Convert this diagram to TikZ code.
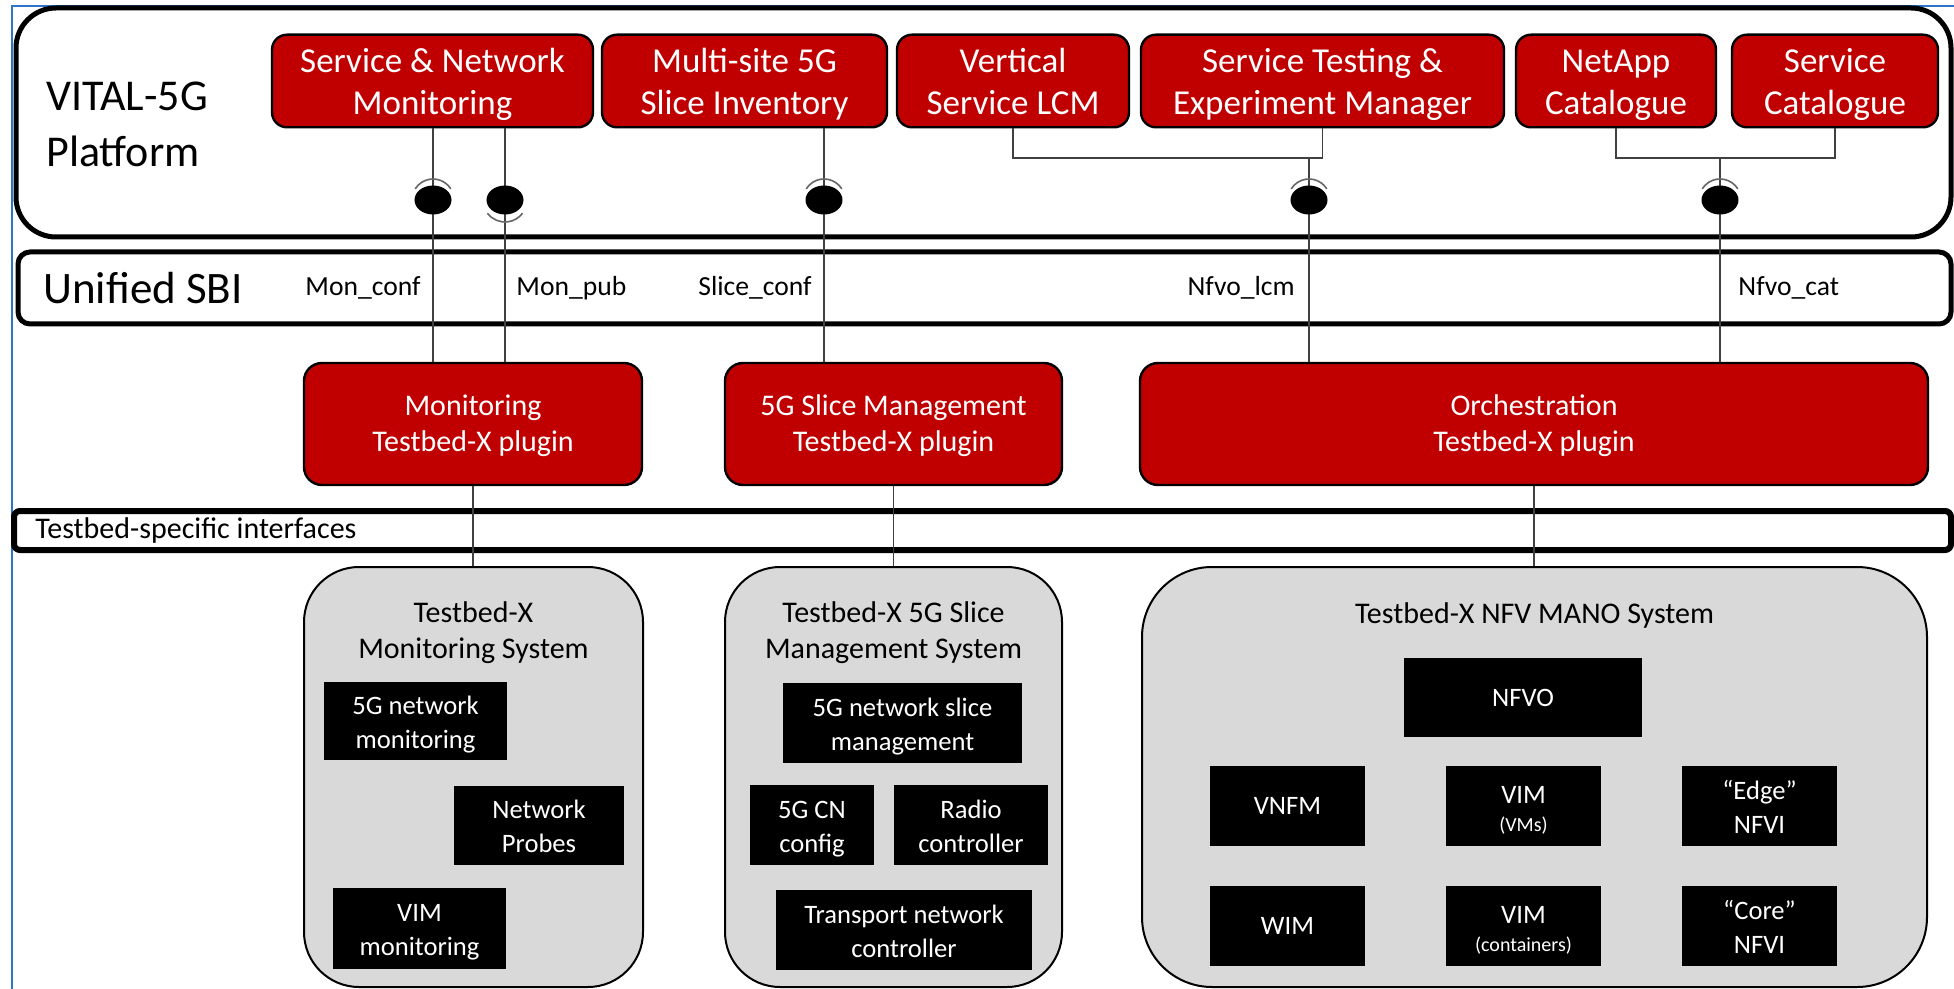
\documentclass[tikz,border=0pt]{standalone}
\usepackage{fontspec}
\setmainfont{Carlito}
\usetikzlibrary{calc}
\definecolor{vred}{HTML}{C00000}
\definecolor{vgray}{HTML}{D9D9D9}
\definecolor{frameblue}{HTML}{2E75C8}

\begin{document}
\begin{tikzpicture}[x=0.5pt,y=-0.5pt,
  panel/.style={draw=black, line width=2.5pt, fill=white, inner sep=0pt},
  topbox/.style={draw=black, line width=1.2pt, fill=vred, text=white, align=center,
    rounded corners=7.5pt, inner sep=0pt, minimum height=46pt,
    font=\fontsize{17.5}{21}\selectfont,
    execute at begin node=\rule{0pt}{40pt}, execute at end node=\strut},
  plugbox/.style={draw=black, line width=1.2pt, fill=vred, text=white, align=center,
    rounded corners=9pt, inner sep=0pt, minimum height=61pt,
    font=\fontsize{15}{18}\selectfont,
    execute at begin node=\rule{0pt}{33pt}, execute at end node=\strut},
  sysbox/.style={draw=black, line width=1pt, fill=vgray, inner sep=0pt,
    rounded corners=27.5pt, minimum height=210pt},
  systitle/.style={align=center, inner sep=0pt, font=\fontsize{15}{18}\selectfont},
  blkone/.style={fill=black, text=white, align=center, inner sep=0pt,
    minimum width=77.5pt, minimum height=40pt, font=\fontsize{13.3}{17}\selectfont},
  blkbox/.style={blkone,
    execute at begin node=\rule{0pt}{#1}, execute at end node=\strut},
  blkbox/.default=32.5pt,
  ifname/.style={inner sep=0pt, font=\fontsize{13.8}{16}\selectfont},
  conn/.style={draw=black!75, line width=0.8pt},
  socket/.style={draw=black!60, line width=0.8pt}
]
\useasboundingbox (0,0) rectangle (1954,989);
\draw[frameblue, line width=1.2pt] (12,989) -- (12,6) -- (1954,6);

% layers
\node[panel, rounded corners=20pt, minimum width=967.5pt, minimum height=114.5pt] (platform) at (983.5,122.5) {};
\node[panel, rounded corners=6pt, minimum width=966.5pt, minimum height=36pt] (sbi) at (984.5,288) {};
\node[panel, line width=3pt, rounded corners=3pt, minimum width=968.5pt, minimum height=19.5pt] (tsi) at (982.5,530.5) {};
\node[anchor=west, align=left, inner sep=0pt, font=\fontsize{22}{28}\selectfont] (pltitle) at (46,124) {VITAL-5G\\Platform};
\node[anchor=west, inner sep=0pt, font=\fontsize{22.5}{27}\selectfont] (sbititle) at (43,288) {Unified SBI};
\node[anchor=west, inner sep=0pt, font=\fontsize{15}{18}\selectfont] (tsititle) at (35,530.5) {Testbed-specific interfaces};

% platform components
\node[topbox, minimum width=160.5pt] (snm) at (432.5,81) {Service \& Network\\Monitoring};
\node[topbox, minimum width=142.5pt] (msi) at (744.5,81) {Multi-site 5G\\Slice Inventory};
\node[topbox, minimum width=116pt] (vsl) at (1013,81) {Vertical\\Service LCM};
\node[topbox, minimum width=181.5pt] (ste) at (1322.5,81) {Service Testing \&\\Experiment Manager};
\node[topbox, minimum width=100pt] (nac) at (1616,81) {NetApp\\Catalogue};
\node[topbox, minimum width=103pt] (sca) at (1835,81) {Service\\Catalogue};

% plugins
\node[plugbox, minimum width=169pt] (monp) at (473,424) {Monitoring\\Testbed-X plugin};
\node[plugbox, minimum width=168.5pt] (slicep) at (893.5,424) {5G Slice Management\\Testbed-X plugin};
\node[plugbox, minimum width=394pt] (orchp) at (1534,424) {Orchestration\\Testbed-X plugin};

% testbed systems
\node[sysbox, minimum width=169.5pt] (monsys) at (473.5,777) {};
\node[sysbox, minimum width=168.5pt] (slicesys) at (893.5,777) {};
\node[sysbox, rounded corners=35pt, minimum width=392.5pt] (manosys) at (1534.5,777) {};
\node[systitle] (monsyst) at (473.5,633) {Testbed-X\\Monitoring System};
\node[systitle] (slicesyst) at (893.5,633) {Testbed-X 5G Slice\\Management System};
\node[systitle] (manosyst) at (1534.5,616) {Testbed-X NFV MANO System};

\node[blkbox, minimum width=91.5pt, minimum height=39pt] (nwmon) at (415.5,721) {5G network\\monitoring};
\node[blkbox, minimum width=85pt, minimum height=39.5pt] (probes) at (539,825.5) {Network\\Probes};
\node[blkbox, minimum width=86.5pt, minimum height=40.5pt] (vimmon) at (419.5,928.5) {VIM\\monitoring};
\node[blkbox, minimum width=119.5pt] (slmgmt) at (902.5,723) {5G network slice\\management};
\node[blkbox, minimum width=62pt] (cncfg) at (812,825) {5G CN\\config};
\node[blkbox, minimum width=77pt] (radio) at (971,825) {Radio\\controller};
\node[blkbox, minimum width=128pt] (transp) at (904,930) {Transport network\\controller};
\node[blkone, minimum width=119pt, minimum height=39.5pt] (nfvo) at (1523,697.5) {NFVO};
\node[blkone] (vnfm) at (1287.5,806) {VNFM};
\node[blkbox=30.5pt] (vimvm) at (1523.5,806) {VIM\\[-3pt]{\fontsize{10}{12}\selectfont (VMs)}};
\node[blkbox] (edge) at (1759.5,806) {“Edge”\\NFVI};
\node[blkone] (wim) at (1287.5,926) {WIM};
\node[blkbox=30.5pt] (vimct) at (1523.5,926) {VIM\\[-3pt]{\fontsize{10}{12}\selectfont (containers)}};
\node[blkbox] (core) at (1759.5,926) {“Core”\\NFVI};

% interfaces
\coordinate (ifmc) at (433,200);
\coordinate (ifmp) at (505,200);
\coordinate (ifsc) at (824,200);
\coordinate (iflcm) at (1309,200);
\coordinate (ifcat) at (1720,200);
\coordinate (jlcm) at (1309,158);
\coordinate (jcat) at (1720,158);

\draw[conn] (ifmc |- snm.south) -- (ifmc |- monp.north);
\draw[conn] (ifmp |- snm.south) -- (ifmp |- monp.north);
\draw[conn] (ifsc |- msi.south) -- (ifsc |- slicep.north);
\draw[conn] (vsl.south) -- (vsl.south |- jlcm) -- (ste.south |- jlcm) -- (ste.south);
\draw[conn] (jlcm) -- (jlcm |- orchp.north);
\draw[conn] (nac.south) -- (nac.south |- jcat) -- (sca.south |- jcat) -- (sca.south);
\draw[conn] (jcat) -- (jcat |- orchp.north);
\draw[conn] (monp.south) -- (monp.south |- monsys.north);
\draw[conn] (slicep.south) -- (slicep.south |- slicesys.north);
\draw[conn] (orchp.south) -- (orchp.south |- manosys.north);

\foreach \p in {ifmc,ifmp,ifsc,iflcm,ifcat}
  \fill (\p) ellipse [x radius=9.25pt, y radius=7.25pt];
\foreach \p in {ifmc,ifsc,iflcm,ifcat}
  \draw[socket] ([shift={(32:10.5pt)}]\p) arc[start angle=32, end angle=148, radius=10.5pt];
\draw[socket] ([shift={(217:11pt)}]ifmp) arc[start angle=217, end angle=323, radius=11pt];

\node[ifname, anchor=east] (lmc) at (421,288) {Mon\_conf};
\node[ifname, anchor=west] (lmp) at (516,288) {Mon\_pub};
\node[ifname, anchor=east] (lsc) at (812,288) {Slice\_conf};
\node[ifname, anchor=east] (llcm) at (1295,288) {Nfvo\_lcm};
\node[ifname, anchor=west] (lcat) at (1738,288) {Nfvo\_cat};
\end{tikzpicture}
\end{document}
